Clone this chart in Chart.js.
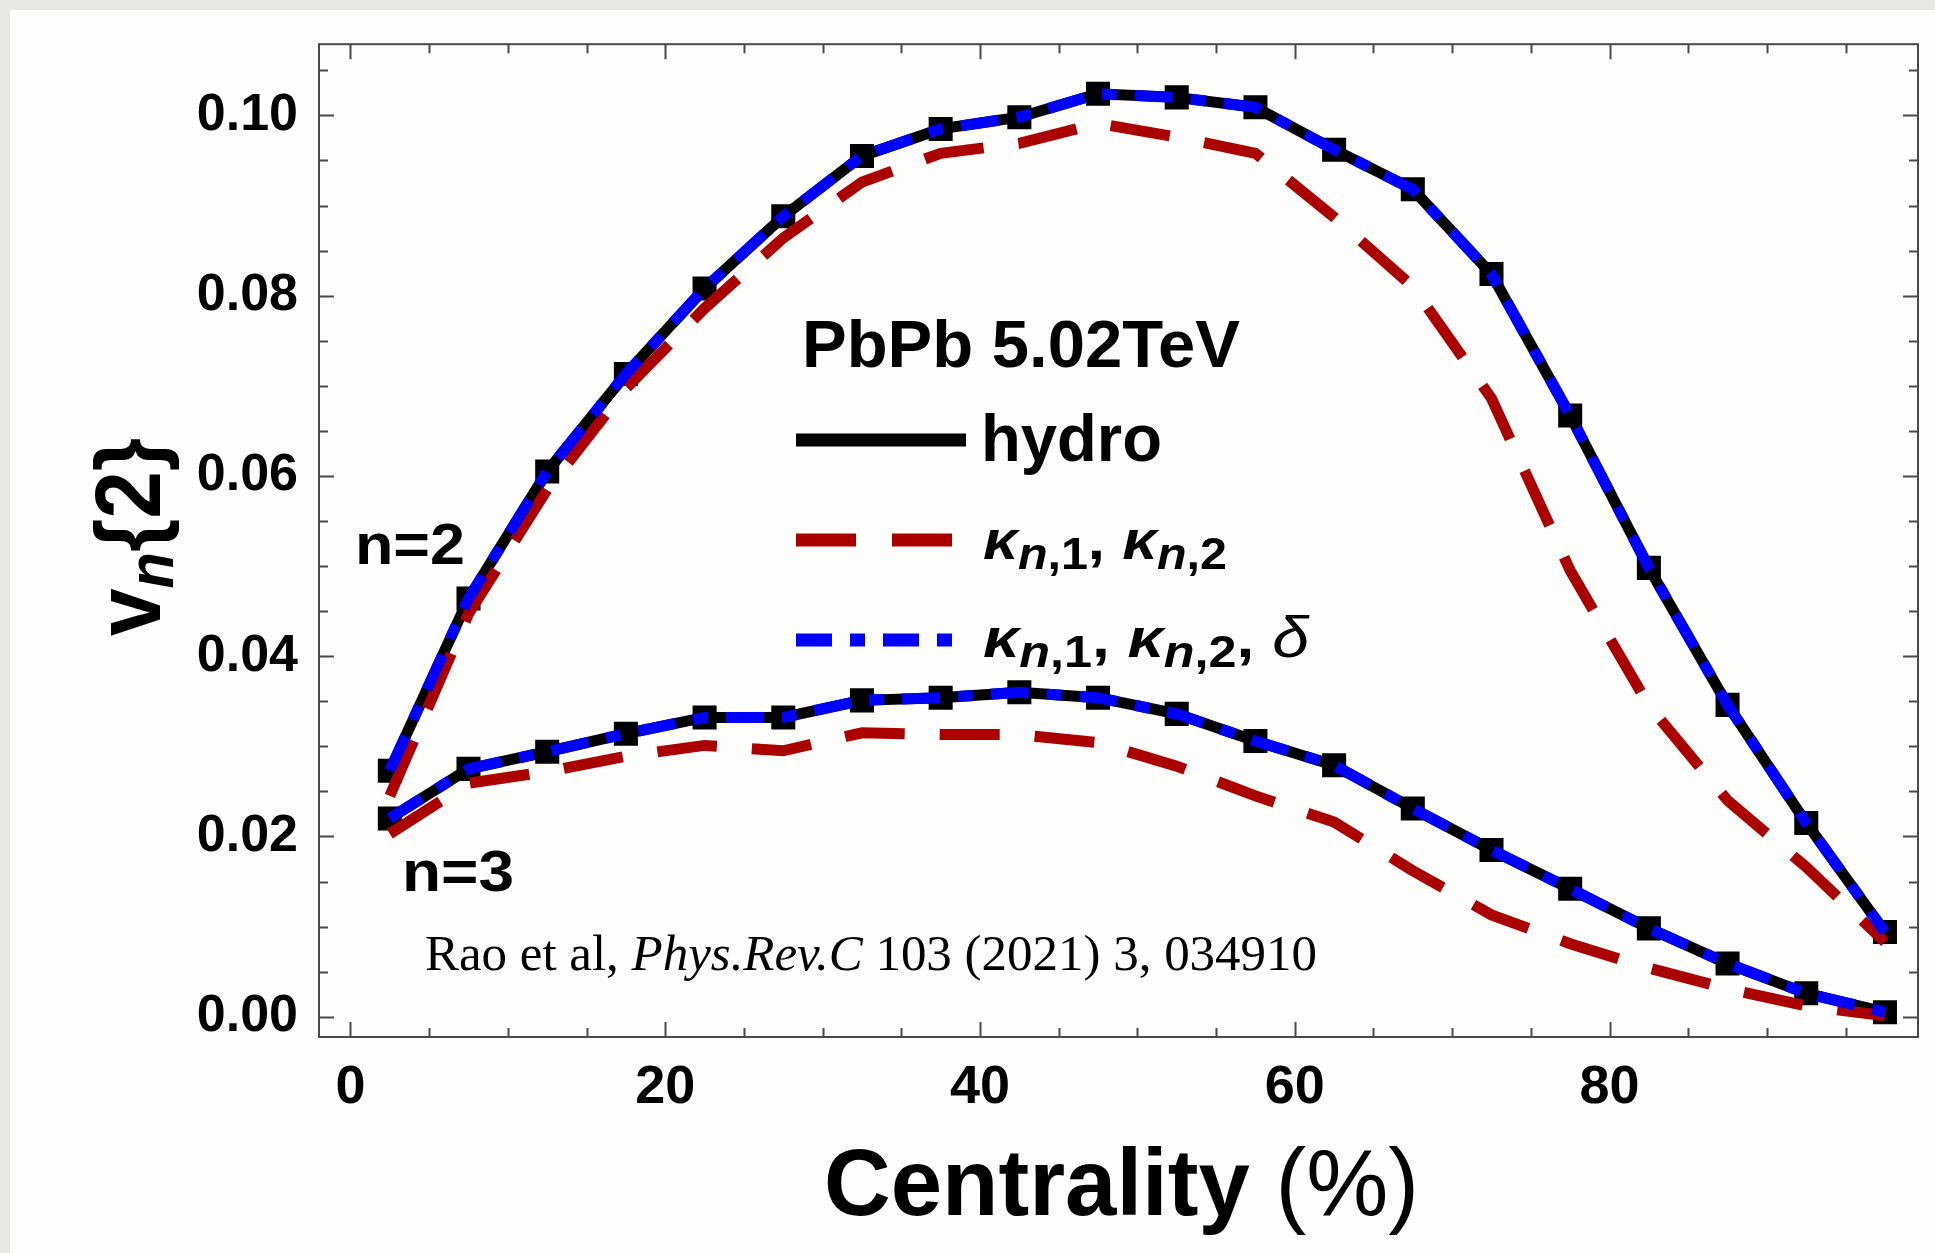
<!DOCTYPE html>
<html>
<head>
<meta charset="utf-8">
<script src="https://cdn.jsdelivr.net/npm/chart.js@4.4.0/dist/chart.umd.min.js"></script>
<style>
  html, body { margin: 0; padding: 0; background: #e9e9e4; }
  canvas { display: block; }
</style>
</head>
<body>
<canvas id="chart" width="1935" height="1253"></canvas>
<script>
// Centrality bins (%)
const centrality = [2.5, 7.5, 12.5, 17.5, 22.5, 27.5, 32.5, 37.5, 42.5, 47.5,
  52.5, 57.5, 62.5, 67.5, 72.5, 77.5, 82.5, 87.5, 92.5, 97.5];

// v2{2} and v3{2}, hydro
const hydroN2 = [0.0273, 0.0464, 0.0605, 0.0713, 0.0808, 0.0888, 0.0955, 0.0985, 0.0998, 0.1024,
  0.1020, 0.1009, 0.0962, 0.0918, 0.0824, 0.0667, 0.0498, 0.0346, 0.0215, 0.0094];
const hydroN3 = [0.0220, 0.0275, 0.0294, 0.0314, 0.0332, 0.0332, 0.0351, 0.0354, 0.0360, 0.0354,
  0.0336, 0.0306, 0.0279, 0.0231, 0.0185, 0.0142, 0.0098, 0.0059, 0.0026, 0.0005];

// kappa_{n,1}, kappa_{n,2}
const kappaN2 = [0.0245, 0.0447, 0.0585, 0.0697, 0.0786, 0.0864, 0.0926, 0.0958, 0.0969, 0.0991,
  0.0976, 0.0958, 0.0887, 0.0810, 0.0686, 0.0495, 0.0345, 0.0240, 0.0166, 0.0083];
const kappaN3 = [0.0203, 0.0259, 0.0272, 0.0289, 0.0301, 0.0295, 0.0315, 0.0313, 0.0313, 0.0304,
  0.0278, 0.0245, 0.0216, 0.0162, 0.0113, 0.0081, 0.0054, 0.0031, 0.0012, 0.0001];

// kappa_{n,1}, kappa_{n,2}, delta (on top of hydro)
const deltaN2 = [0.0273, 0.0464, 0.0605, 0.0713, 0.0808, 0.0888, 0.0955, 0.0985, 0.0998, 0.1024,
  0.1020, 0.1009, 0.0962, 0.0918, 0.0824, 0.0667, 0.0498, 0.0346, 0.0215, 0.0094];
const deltaN3 = [0.0220, 0.0275, 0.0294, 0.0314, 0.0332, 0.0332, 0.0351, 0.0354, 0.0360, 0.0354,
  0.0336, 0.0306, 0.0279, 0.0231, 0.0185, 0.0142, 0.0098, 0.0059, 0.0026, 0.0005];

// Tick labels
const xTickLabels = [0, 20, 40, 60, 80];
const yTickLabels = [0.00, 0.02, 0.04, 0.06, 0.08, 0.10];

const BLACK = '#000000';
const RED = '#ab0000';
const BLUE = '#0000ff';
const SANS = '"Liberation Sans", Arial, sans-serif';
const SERIF = '"Liberation Serif", "Times New Roman", serif';

function pts(ys) {
  return centrality.map((x, i) => ({ x: x, y: ys[i] }));
}

function hydroSet(ys) {
  return {
    data: pts(ys), borderColor: BLACK, backgroundColor: BLACK, borderWidth: 11,
    pointStyle: 'rect', pointRadius: 17, pointBorderWidth: 0, tension: 0, order: 2
  };
}
function kappaSet(ys) {
  return {
    data: pts(ys), borderColor: RED, borderWidth: 11, borderDash: [60, 35],
    borderCapStyle: 'butt', pointRadius: 0, tension: 0, order: 1
  };
}
function deltaSet(ys) {
  return {
    data: pts(ys), borderColor: BLUE, borderWidth: 11, borderDash: [38, 18, 15, 18],
    borderCapStyle: 'butt', pointRadius: 0, tension: 0, order: 0
  };
}

// draw text pieces one after another
function drawParts(ctx, x, y, parts) {
  for (const p of parts) {
    ctx.font = p.f;
    ctx.fillText(p.t, x, y + (p.dy || 0));
    x += ctx.measureText(p.t).width;
  }
  return x;
}
function partsWidth(ctx, parts) {
  let w = 0;
  for (const p of parts) { ctx.font = p.f; w += ctx.measureText(p.t).width; }
  return w;
}
// draw pieces squeezed/stretched to a target width
function fitParts(ctx, x, y, parts, width) {
  const w = partsWidth(ctx, parts);
  ctx.save();
  ctx.translate(x, y);
  ctx.scale(width / w, 1);
  drawParts(ctx, 0, 0, parts);
  ctx.restore();
}

const backdrop = {
  id: 'backdrop',
  beforeDraw(chart) {
    const ctx = chart.ctx;
    ctx.save();
    ctx.fillStyle = '#e9e9e4';
    ctx.fillRect(0, 0, chart.width, chart.height);
    ctx.fillStyle = '#fdfdfc';
    ctx.fillRect(10, 10, chart.width - 10, chart.height - 10);
    ctx.restore();
  }
};

const frame = {
  id: 'frame',
  afterDraw(chart) {
    const { ctx, chartArea: a, scales: { x, y } } = chart;
    ctx.save();
    ctx.strokeStyle = '#4a4a4a';
    ctx.lineWidth = 2;
    ctx.beginPath();
    for (let v = 0; v <= 95; v += 5) {
      const px = Math.round(x.getPixelForValue(v)) + 0.5;
      const len = v % 20 === 0 ? 15 : 9;
      ctx.moveTo(px, a.bottom); ctx.lineTo(px, a.bottom - len);
      ctx.moveTo(px, a.top); ctx.lineTo(px, a.top + len);
    }
    for (let i = 0; i <= 21; i++) {
      const py = Math.round(y.getPixelForValue(i * 0.005)) + 0.5;
      const len = i % 4 === 0 ? 15 : 9;
      ctx.moveTo(a.left, py); ctx.lineTo(a.left + len, py);
      ctx.moveTo(a.right, py); ctx.lineTo(a.right - len, py);
    }
    ctx.stroke();
    ctx.strokeRect(a.left, a.top, a.right - a.left, a.bottom - a.top);
    ctx.restore();
  }
};

const labels = {
  id: 'labels',
  afterDraw(chart) {
    const ctx = chart.ctx;
    ctx.save();
    ctx.fillStyle = '#000';
    ctx.textAlign = 'left';
    ctx.textBaseline = 'alphabetic';

    // legend title
    fitParts(ctx, 802, 367, [{ t: 'PbPb 5.02TeV', f: 'bold 67px ' + SANS }], 438);

    // legend samples
    ctx.lineCap = 'butt';
    ctx.lineWidth = 13;
    ctx.strokeStyle = BLACK;
    ctx.setLineDash([]);
    ctx.beginPath(); ctx.moveTo(796, 440); ctx.lineTo(966, 440); ctx.stroke();
    ctx.strokeStyle = RED;
    ctx.setLineDash([60, 36]);
    ctx.beginPath(); ctx.moveTo(796, 540); ctx.lineTo(956, 540); ctx.stroke();
    ctx.strokeStyle = BLUE;
    ctx.setLineDash([36, 18, 15, 18]);
    ctx.beginPath(); ctx.moveTo(796, 640); ctx.lineTo(958, 640); ctx.stroke();
    ctx.setLineDash([]);

    fitParts(ctx, 981, 461, [{ t: 'hydro', f: 'bold 67px ' + SANS }], 181);

    const kap = 'italic bold 56px ' + SANS;
    const subI = 'italic bold 44px ' + SANS;
    const subB = 'bold 44px ' + SANS;
    const com = 'bold 56px ' + SANS;
    const kappaParts = [
      { t: 'κ', f: kap }, { t: 'n', f: subI, dy: 10 }, { t: ',1', f: subB, dy: 10 },
      { t: ', ', f: com },
      { t: 'κ', f: kap }, { t: 'n', f: subI, dy: 10 }, { t: ',2', f: subB, dy: 10 }
    ];
    fitParts(ctx, 983, 559, kappaParts, 244);
    fitParts(ctx, 983, 657, kappaParts.concat([
      { t: ', ', f: com }, { t: 'δ', f: 'italic 58px ' + SANS }
    ]), 326);

    // curve labels
    fitParts(ctx, 355, 564, [{ t: 'n=2', f: 'bold 58px ' + SANS }], 110);
    fitParts(ctx, 402, 891, [{ t: 'n=3', f: 'bold 58px ' + SANS }], 112);

    // reference
    fitParts(ctx, 425, 970, [
      { t: 'Rao et al, ', f: '50px ' + SERIF },
      { t: 'Phys.Rev.C', f: 'italic 50px ' + SERIF },
      { t: ' 103 (2021) 3, 034910', f: '50px ' + SERIF }
    ], 892);

    // x axis title
    fitParts(ctx, 824, 1215, [
      { t: 'Centrality ', f: 'bold 95px ' + SANS },
      { t: '(%)', f: '95px ' + SANS }
    ], 595);

    // y axis title, rotated
    ctx.save();
    ctx.translate(160, 636);
    ctx.rotate(-Math.PI / 2);
    fitParts(ctx, 0, 0, [
      { t: 'v', f: 'bold 92px ' + SANS },
      { t: 'n', f: 'italic bold 64px ' + SANS, dy: 13 },
      { t: '{2}', f: 'bold 92px ' + SANS }
    ], 198);
    ctx.restore();

    ctx.restore();
  }
};

const ctx = document.getElementById('chart').getContext('2d');
const chart = new Chart(ctx, {
  type: 'line',
  data: {
    datasets: [
      deltaSet(deltaN2), deltaSet(deltaN3),
      kappaSet(kappaN2), kappaSet(kappaN3),
      hydroSet(hydroN2), hydroSet(hydroN3)
    ]
  },
  options: {
    responsive: false,
    animation: false,
    events: [],
    layout: { padding: { top: 42, right: 7, left: 0, bottom: 0 } },
    scales: {
      x: {
        type: 'linear', position: 'bottom', min: -2.0, max: 99.6,
        grid: { display: false }, border: { display: false },
        afterBuildTicks: (s) => { s.ticks = xTickLabels.map(v => ({ value: v })); },
        afterFit: (s) => { s.height = 216; },
        ticks: {
          color: '#000', padding: 11, maxRotation: 0, autoSkip: false,
          font: { family: SANS, size: 54, weight: 'bold' },
          callback: (v) => String(v)
        }
      },
      y: {
        type: 'linear', min: -0.00225, max: 0.1079,
        grid: { display: false }, border: { display: false },
        afterBuildTicks: (s) => { s.ticks = yTickLabels.map(v => ({ value: v })); },
        afterFit: (s) => { s.width = 319; },
        ticks: {
          color: '#000', padding: 13, autoSkip: false,
          font: { family: SANS, size: 52, weight: 'bold' },
          callback: (v) => Number(v).toFixed(2)
        }
      }
    },
    plugins: {
      legend: { display: false },
      tooltip: { enabled: false },
      title: { display: false }
    }
  },
  plugins: [backdrop, frame, labels]
});
</script>
</body>
</html>
